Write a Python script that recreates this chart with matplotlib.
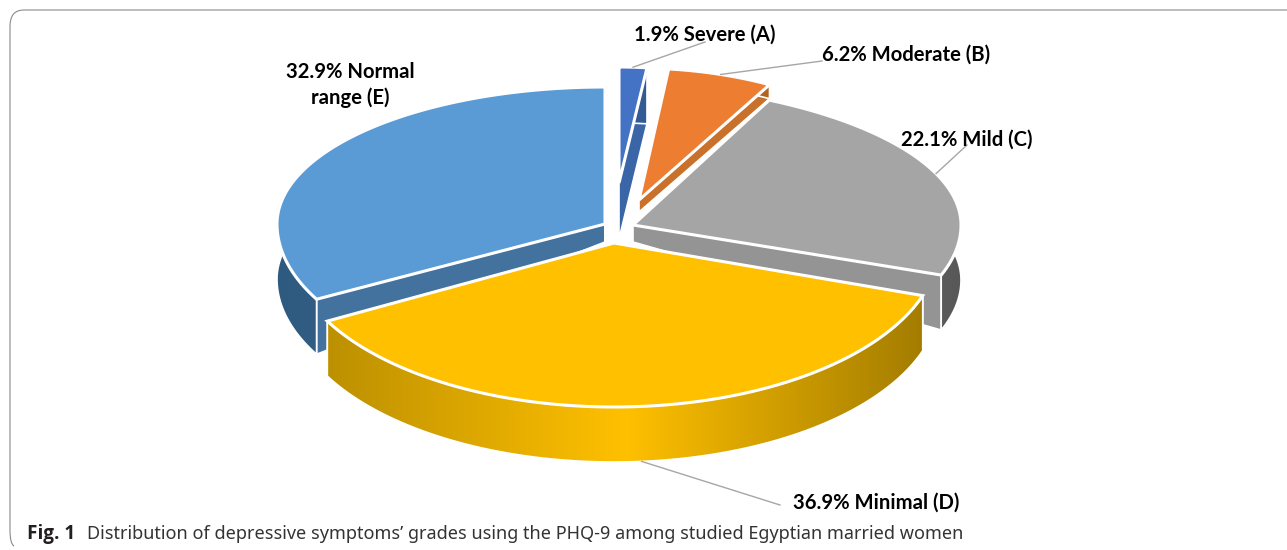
import numpy as np
import matplotlib
matplotlib.use('Agg')
import matplotlib.pyplot as plt
from matplotlib.colors import LinearSegmentedColormap
from matplotlib.patches import PathPatch, Polygon
from matplotlib.path import Path

# data
grades = ['Severe (A)', 'Moderate (B)', 'Mild (C)', 'Minimal (D)', 'Normal\nrange (E)']
percent = [1.9, 6.2, 22.1, 36.9, 32.9]
caption_bold = 'Fig. 1'
caption_text = 'Distribution of depressive symptoms\u2019 grades using the PHQ-9 among studied Egyptian married women'

# colours
face_colors = ['#4472C4', '#ED7D31', '#A5A5A5', '#FFC000', '#5B9BD5']
side_colors = ['#3A66A8', '#C9712B', '#949494', '#B38900', '#44729F']
wall_ramps = [['#345A94', '#345A94'], ['#B5621F', '#B5621F'], ['#6E6E6E', '#585858'],
              ['#BC9000', '#FFC000', '#A47D00'], ['#2F5A80', '#42709C']]

# layout in pixels: apex, ellipse shift and radii (perspective differs back and front), wall heights
apex_x = [619, 639, 633, 614, 605]
apex_y = [183, 200, 225, 243, 224]
shift_x = [0, -3, -46, 0, 0]
rad_x = [235, 274, 374, 326, 328]
rad_back = [116, 132, 143, 164, 137]
rad_front = [116, 132, 156, 164, 158]
wall_in = [56, 12, 17, 55, 18]
wall_out = [56, 14, 55, 55, 55]

label_pos = [(705, 35), (906, 55), (967, 140), (876, 503), (350, 85)]
leader_end = [(705, 42), (822, 61), (967, 145), (780, 505), None]
draw_order = [0, 1, 4, 2, 3]

W, H = 1287, 550
fig = plt.figure(figsize=(W / 100, H / 100), dpi=100)
ax = fig.add_axes([0, 0, 1, 1])
ax.axis('off')


def rim(i, theta):
    theta = np.asarray(theta, dtype=float)
    c = np.cos(theta)
    x = apex_x[i] + shift_x[i] + rad_x[i] * np.sin(theta)
    y = apex_y[i] - np.where(c > 0, rad_back[i], rad_front[i]) * c
    return np.column_stack([x, y])


# border of the figure panel
frame = Path([(W, 10), (24, 10), (10, 10), (10, 26), (10, 530), (10, 544), (14, 546)],
             [Path.MOVETO, Path.LINETO, Path.CURVE3, Path.CURVE3, Path.LINETO, Path.CURVE3, Path.CURVE3])
ax.add_patch(PathPatch(frame, fill=False, edgecolor='#8A8A8A', linewidth=0.8))

edges = np.cumsum([0] + percent) / 100 * 2 * np.pi

for pos, i in enumerate(draw_order):
    z = pos * 3 + 2
    thetas = np.linspace(edges[i], edges[i + 1], 120)
    arc = rim(i, thetas)
    apex = np.array([apex_x[i], apex_y[i]], dtype=float)

    # cut walls
    for end in [arc[0], arc[-1]]:
        quad = [apex, end, end + [0, wall_out[i]], apex + [0, wall_in[i]]]
        ax.add_patch(Polygon(quad, closed=True, facecolor=side_colors[i], edgecolor='white',
                             linewidth=1.2, joinstyle='miter', zorder=z))

    # outer wall with horizontal shading
    wall = np.vstack([arc, (arc + [0, wall_out[i]])[::-1]])
    cmap = LinearSegmentedColormap.from_list('wall', wall_ramps[i])
    poly = Polygon(wall, closed=True, facecolor='none', edgecolor='none', zorder=z)
    ax.add_patch(poly)
    im = ax.imshow(np.linspace(0, 1, 256)[None, :], cmap=cmap, aspect='auto',
                   extent=(wall[:, 0].min(), wall[:, 0].max(), H, 0), zorder=z + 0.1)
    im.set_clip_path(poly)
    ax.add_patch(Polygon(wall, closed=True, facecolor='none', edgecolor='white',
                         linewidth=1.2, zorder=z + 0.2))

    # top face
    ax.add_patch(Polygon(np.vstack([apex, arc]), closed=True, facecolor=face_colors[i],
                         edgecolor='white', linewidth=2.2, joinstyle='miter', zorder=z + 0.3))

ax.set_xlim(0, W)
ax.set_ylim(H, 0)

# labels
for i, name in enumerate(grades):
    ax.text(label_pos[i][0], label_pos[i][1], f'{percent[i]}% {name}', family='Lato', weight='bold',
            fontsize=14.6, color='#000000', ha='center', va='center', linespacing=1.3, zorder=30)
    if leader_end[i] is not None:
        mid = (edges[i] + edges[i + 1]) / 2
        start = rim(i, [mid])[0]
        if i == 3:
            start = start + [0, wall_out[i]]
        ax.plot([start[0], leader_end[i][0]], [start[1], leader_end[i][1]], color='#A6A6A6',
                linewidth=1, zorder=29)

# caption
ax.text(27, 534, caption_bold, family='Open Sans', weight='bold', fontsize=13.6, color='#231F20',
        ha='left', va='center')
ax.text(87, 534, caption_text, family='Noto Sans', fontsize=13, color='#333333', ha='left', va='center')

fig.savefig('out.png', dpi=100)
